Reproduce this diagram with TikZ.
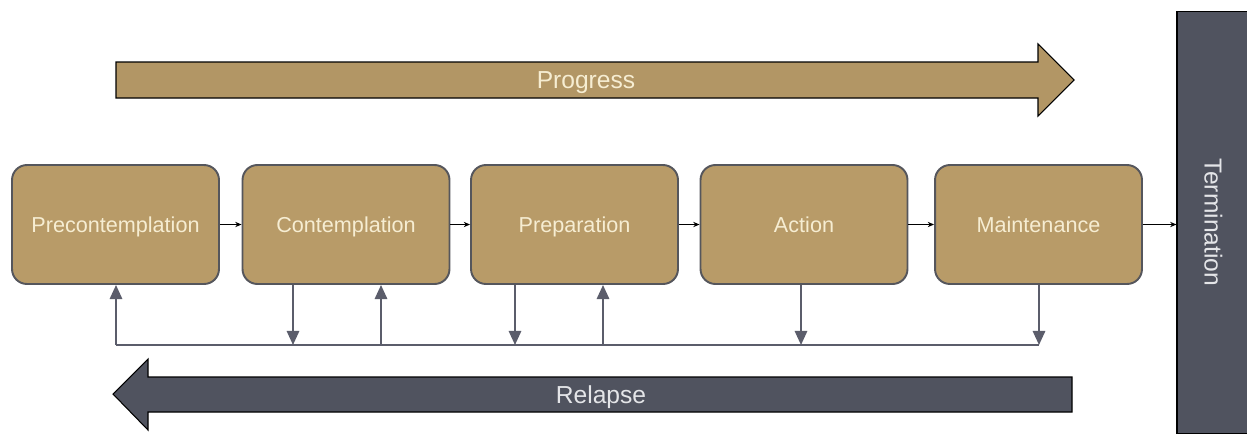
\documentclass[tikz,border=0pt]{standalone}
\usepackage{fontspec}
\setmainfont{Liberation Sans}
\usetikzlibrary{positioning, arrows.meta, calc}

\definecolor{stagetan}{HTML}{B89B68}
\definecolor{stageedge}{HTML}{55565C}
\definecolor{stagetext}{HTML}{F6EDD2}
\definecolor{slate}{HTML}{50535F}
\definecolor{busgrey}{HTML}{5B5D6B}
\definecolor{paletext}{HTML}{E4E5E8}

\begin{document}
\begin{tikzpicture}[x=0.02cm, y=-0.02cm, >=Stealth,
    stage/.style={draw=stageedge, line width=1.1pt, fill=stagetan, rounded corners=8.5pt,
        minimum width=4.14cm, minimum height=2.38cm, inner sep=0pt,
        text height=8.9pt, text depth=0pt,
        text=stagetext, font=\fontsize{12.3}{15}\selectfont},
    link/.style={-{Stealth[length=3.6pt, width=3pt]}, line width=0.6pt, black},
    fb/.style={-{Triangle[length=8pt, width=7pt]}, line width=1.2pt, busgrey},
    bigtext/.style={font=\fontsize{14}{17}\selectfont}]
    \useasboundingbox (0,0) rectangle (1247,434);
    % Progress arrow
    \draw[line width=0.6pt, fill=stagetan!97!black] (116,62) -- (1038,62) -- (1038,44) -- (1074,80)
        -- (1038,116) -- (1038,98) -- (116,98) -- cycle;
    \node[bigtext, text=stagetext, text height=10pt, text depth=0pt] (progress) at (586,80) {Progress};
    % Relapse arrow
    \draw[line width=0.6pt, fill=slate] (1072,377) -- (148,377) -- (148,359) -- (113,394)
        -- (148,430) -- (148,412) -- (1072,412) -- cycle;
    \node[bigtext, text=paletext, text height=10pt, text depth=0pt] (relapse) at (601,395) {Relapse};
    % Termination bar
    \node[draw=black, line width=0.6pt, fill=slate, rotate=-90, minimum width=8.46cm,
        minimum height=1.46cm, inner sep=0pt, bigtext, text=paletext] (term) at (1213.5,222.5) {Termination};
    % Stages
    \node[stage] (pre) at (115.5,224.5) {Precontemplation};
    \node[stage] (con) at (346,224.5) {Contemplation};
    \node[stage] (prep) at (574.5,224.5) {Preparation};
    \node[stage] (act) at (804,224.5) {Action};
    \node[stage] (main) at (1038.5,224.5) {Maintenance};
    \draw[link] (pre) -- (con);
    \draw[link] (con) -- (prep);
    \draw[link] (prep) -- (act);
    \draw[link] (act) -- (main);
    \draw[link] (main.east) -- (main.east -| term.south);
    % Relapse bus
    \coordinate (r1) at (116,345);
    \coordinate (d1) at (293,345);
    \coordinate (r2) at (381,345);
    \coordinate (d2) at (515,345);
    \coordinate (r3) at (603,345);
    \coordinate (d3) at (801,345);
    \coordinate (d4) at (1039,345);
    \draw[line width=1.2pt, busgrey] (r1) -- (d4);
    \draw[fb] (r1) -- (r1 |- pre.south);
    \draw[fb] (r2) -- (r2 |- con.south);
    \draw[fb] (r3) -- (r3 |- prep.south);
    \draw[fb] (d1 |- con.south) -- (d1);
    \draw[fb] (d2 |- prep.south) -- (d2);
    \draw[fb] (d3 |- act.south) -- (d3);
    \draw[fb] (d4 |- main.south) -- (d4);
\end{tikzpicture}
\end{document}
